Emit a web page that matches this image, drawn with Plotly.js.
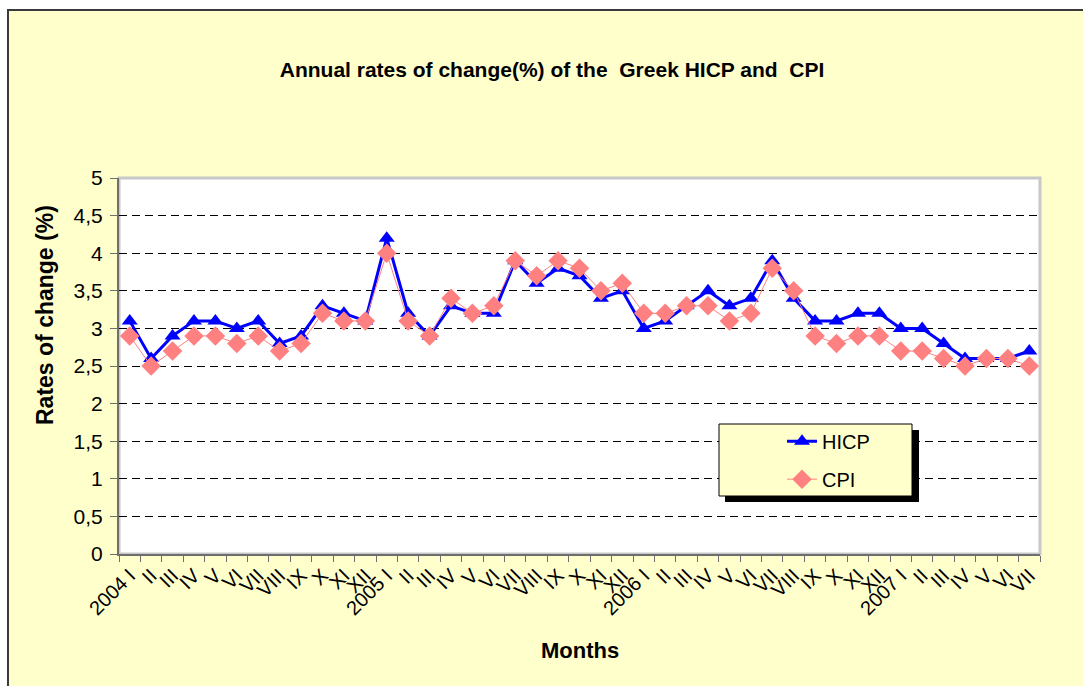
<!DOCTYPE html>
<html>
<head>
<meta charset="utf-8">
<script src="https://cdn.plot.ly/plotly-3.0.1.min.js"></script>
<style>
  html, body { margin: 0; padding: 0; background: #ffffff; overflow: hidden; }
  #chart { position: absolute; left: 7px; top: 9px; width: 1074px; height: 675px;
           border-top: 2px solid #3a3a3a; border-left: 2px solid #3a3a3a; }
</style>
</head>
<body>
<div id="chart"></div>
<script>
const monthLabels = [
  "2004 I","II","III","IV","V","VI","VII","VIII","IX","X","XI","XII",
  "2005 I","II","III","IV","V","VI","VII","VIII","IX","X","XI","XII",
  "2006 I","II","III","IV","V","VI","VII","VIII","IX","X","XI","XII",
  "2007 I","II","III","IV","V","VI","VII"
];
const hicp = [
  3.1, 2.6, 2.9, 3.1, 3.1, 3.0, 3.1, 2.8, 2.9, 3.3, 3.2, 3.1,
  4.2, 3.2, 2.9, 3.3, 3.2, 3.2, 3.9, 3.6, 3.8, 3.7, 3.4, 3.5,
  3.0, 3.1, 3.3, 3.5, 3.3, 3.4, 3.9, 3.4, 3.1, 3.1, 3.2, 3.2,
  3.0, 3.0, 2.8, 2.6, 2.6, 2.6, 2.7
];
const cpi = [
  2.9, 2.5, 2.7, 2.9, 2.9, 2.8, 2.9, 2.7, 2.8, 3.2, 3.1, 3.1,
  4.0, 3.1, 2.9, 3.4, 3.2, 3.3, 3.9, 3.7, 3.9, 3.8, 3.5, 3.6,
  3.2, 3.2, 3.3, 3.3, 3.1, 3.2, 3.8, 3.5, 2.9, 2.8, 2.9, 2.9,
  2.7, 2.7, 2.6, 2.5, 2.6, 2.6, 2.5
];
const yTicks = [0, 0.5, 1, 1.5, 2, 2.5, 3, 3.5, 4, 4.5, 5];

const xIdx = monthLabels.map((_, i) => i);
const FONT = "Liberation Sans, Arial, sans-serif";

const traces = [
  {
    x: xIdx, y: hicp, name: "HICP", type: "scatter", mode: "lines+markers",
    legendgroup: "a",
    line: { color: "#0000FF", width: 3 },
    marker: { symbol: "triangle-up", size: 14, color: "#0000FF" }
  },
  {
    x: xIdx, y: cpi, name: "CPI", type: "scatter", mode: "lines+markers",
    legendgroup: "b",
    line: { color: "#FF8080", width: 1 },
    marker: { symbol: "diamond", size: 15, color: "#FF8080" }
  }
];

const layout = {
  width: 1074, height: 675,
  margin: { l: 110, r: 43, t: 167, b: 132 },
  paper_bgcolor: "#FFFFCC",
  plot_bgcolor: "#FFFFFF",
  separators: ",.",
  font: { family: FONT, color: "#000000", size: 20 },
  showlegend: true,
  title: {
    text: "Annual rates of change(%) of the\u00A0 Greek HICP and\u00A0 CPI",
    font: { family: FONT, size: 21, color: "#000", weight: "bold" },
    xref: "container", yref: "container",
    x: 0.5056, y: 0.9126, xanchor: "center", yanchor: "middle"
  },
  xaxis: {
    type: "linear",
    range: [-0.5, xIdx.length - 0.5],
    tickmode: "array",
    tickvals: xIdx,
    ticktext: monthLabels,
    tickangle: -45,
    ticks: "",
    tickfont: { family: FONT, size: 20, color: "#000" },
    showgrid: false,
    zeroline: false,
    showline: true, linecolor: "#6e6e6e", linewidth: 2,
    minor: { tick0: -0.5, dtick: 1, ticks: "outside", ticklen: 6, tickcolor: "#6e6e6e", tickwidth: 1, showgrid: false },
    fixedrange: true
  },
  yaxis: {
    range: [0, 5],
    tickmode: "array",
    tickvals: yTicks,
    ticks: "outside", ticklen: 7, tickcolor: "#6e6e6e",
    ticklabelstandoff: 3,
    tickfont: { family: FONT, size: 21, color: "#000" },
    showgrid: true, gridcolor: "#000000", gridwidth: 1, griddash: "8px,5px",
    zeroline: false,
    showline: true, linecolor: "#6e6e6e", linewidth: 2,
    fixedrange: true
  },
  legend: {
    x: 0.7199, y: 0.352, xanchor: "left", yanchor: "top",
    bgcolor: "rgba(0,0,0,0)", borderwidth: 0,
    font: { family: FONT, size: 20, color: "#000" },
    traceorder: "grouped", tracegroupgap: 9
  },
  shapes: [
    { type: "rect", xref: "paper", yref: "paper", x0: 0, x1: 1, y0: 0, y1: 1,
      line: { color: "#C8C8C8", width: 3 }, fillcolor: "rgba(0,0,0,0)", layer: "below" },
    { type: "rect", xref: "paper", yref: "paper",
      x0: (725 - 119) / 921, x1: (919 - 119) / 921, y0: (554 - 502) / 376, y1: (554 - 430) / 376,
      line: { width: 0 }, fillcolor: "#000000", layer: "above" },
    { type: "rect", xref: "paper", yref: "paper",
      x0: (719 - 119) / 921, x1: (912 - 119) / 921, y0: (554 - 496) / 376, y1: (554 - 424) / 376,
      line: { color: "#000000", width: 1 }, fillcolor: "#FFFFCC", layer: "above" }
  ],
  annotations: [
    { text: "<b>Rates of change (%)</b>", xref: "paper", yref: "paper",
      x: (45 - 119) / 921, y: (554 - 315) / 376, textangle: -90, showarrow: false,
      font: { family: FONT, size: 23, color: "#000" }, xanchor: "center", yanchor: "middle" },
    { text: "<b>Months</b>", xref: "paper", yref: "paper",
      x: 0.5, y: (554 - 650) / 376, showarrow: false,
      font: { family: FONT, size: 22, color: "#000" }, xanchor: "center", yanchor: "middle" }
  ]
};

Plotly.newPlot("chart", traces, layout, { displayModeBar: false, staticPlot: true });
</script>
</body>
</html>
